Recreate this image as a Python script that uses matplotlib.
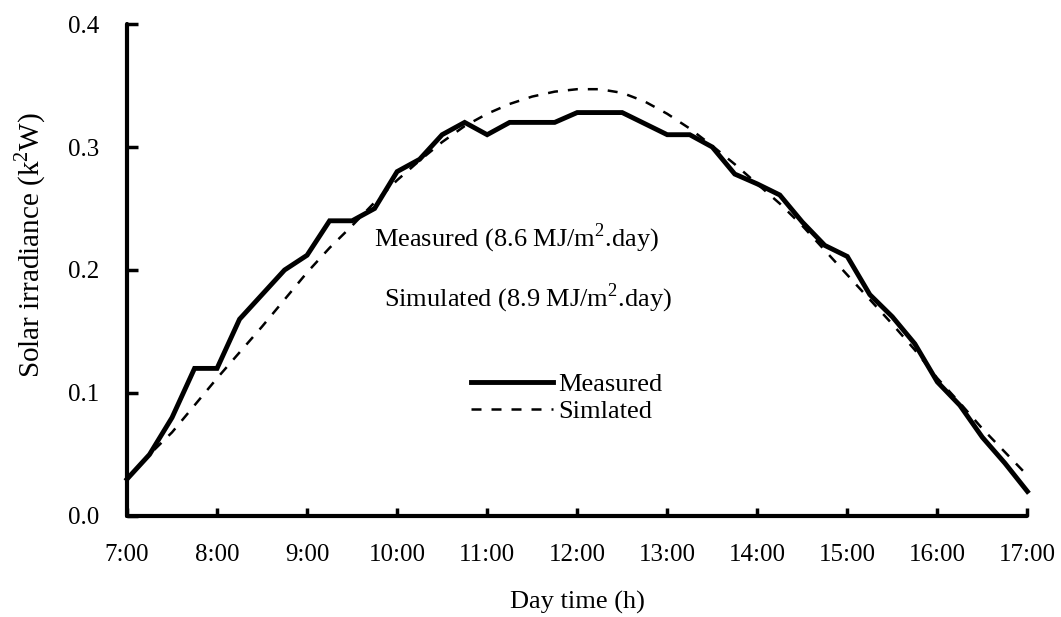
import matplotlib
matplotlib.use('Agg')
import matplotlib.pyplot as plt
import numpy as np

# time in hours, every 15 minutes from 7:00 to 17:00
hours = np.arange(7, 17.01, 0.25)

measured = [0.030, 0.050, 0.080, 0.120, 0.120, 0.160, 0.180, 0.200, 0.212,
            0.240, 0.240, 0.250, 0.280, 0.290, 0.310, 0.320, 0.310, 0.320,
            0.320, 0.320, 0.328, 0.328, 0.328, 0.319, 0.310, 0.310, 0.300,
            0.278, 0.270, 0.261, 0.239, 0.220, 0.211, 0.180, 0.162, 0.140,
            0.109, 0.090, 0.064, 0.043, 0.020]

simulated = [0.030, 0.050, 0.068, 0.090, 0.112, 0.133, 0.154, 0.176, 0.198,
             0.218, 0.236, 0.255, 0.273, 0.289, 0.304, 0.317, 0.327, 0.335,
             0.341, 0.345, 0.347, 0.347, 0.344, 0.337, 0.327, 0.315, 0.301,
             0.286, 0.270, 0.254, 0.236, 0.216, 0.196, 0.176, 0.156, 0.135,
             0.112, 0.092, 0.071, 0.052, 0.033]

xticks = list(range(7, 18))
xtick_labels = [f'{h}:00' for h in xticks]
yticks = [0.0, 0.1, 0.2, 0.3, 0.4]

plt.rcParams['font.family'] = ['Liberation Serif', 'DejaVu Serif']
plt.rcParams['mathtext.fontset'] = 'custom'
plt.rcParams['mathtext.rm'] = 'Liberation Serif'

fig = plt.figure(figsize=(10.61, 6.17), dpi=100)
ax = fig.add_axes([0.1197, 0.1637, 0.8486, 0.7974])

ax.plot(hours, measured, color='black', lw=3.5, solid_joinstyle='miter',
        label='Measured', clip_on=False)
ax.plot(hours, simulated, color='black', lw=1.8, dashes=(4, 4),
        label='Simlated', clip_on=False)

ax.set_xlim(7, 17)
ax.set_ylim(0, 0.4)

for side in ['top', 'right']:
    ax.spines[side].set_visible(False)
for side in ['left', 'bottom']:
    ax.spines[side].set_linewidth(3)
    ax.spines[side].set_capstyle('round')

ax.set_xticks(xticks)
ax.set_xticklabels(xtick_labels)
ax.set_yticks(yticks)
ax.set_yticklabels([f'{v:.1f}' for v in yticks])
ax.tick_params(axis='y', direction='in', length=8, width=2.5, pad=20, labelsize=18)
ax.tick_params(axis='x', direction='in', length=6, width=2.5, pad=20, labelsize=18)

ax.set_xlabel('Day time (h)', fontsize=19, labelpad=18)
ax.set_ylabel('Solar irradiance (k$^\\mathrm{2}$W)', fontsize=21)
ax.yaxis.set_label_coords(-0.088, 0.55)

ax.text(0.274, 0.565, 'Measured (8.6 MJ/m$^\\mathrm{2}$.day)', transform=ax.transAxes,
        fontsize=19, va='center', ha='left')
ax.text(0.2856, 0.443, 'Simulated (8.9 MJ/m$^\\mathrm{2}$.day)', transform=ax.transAxes,
        fontsize=19, va='center', ha='left')

ax.legend(loc='center left', bbox_to_anchor=(0.356, 0.24), frameon=False,
          fontsize=19, handlelength=3.1, handletextpad=0.2, labelspacing=0.15)

fig.savefig('out.png', dpi=100)
